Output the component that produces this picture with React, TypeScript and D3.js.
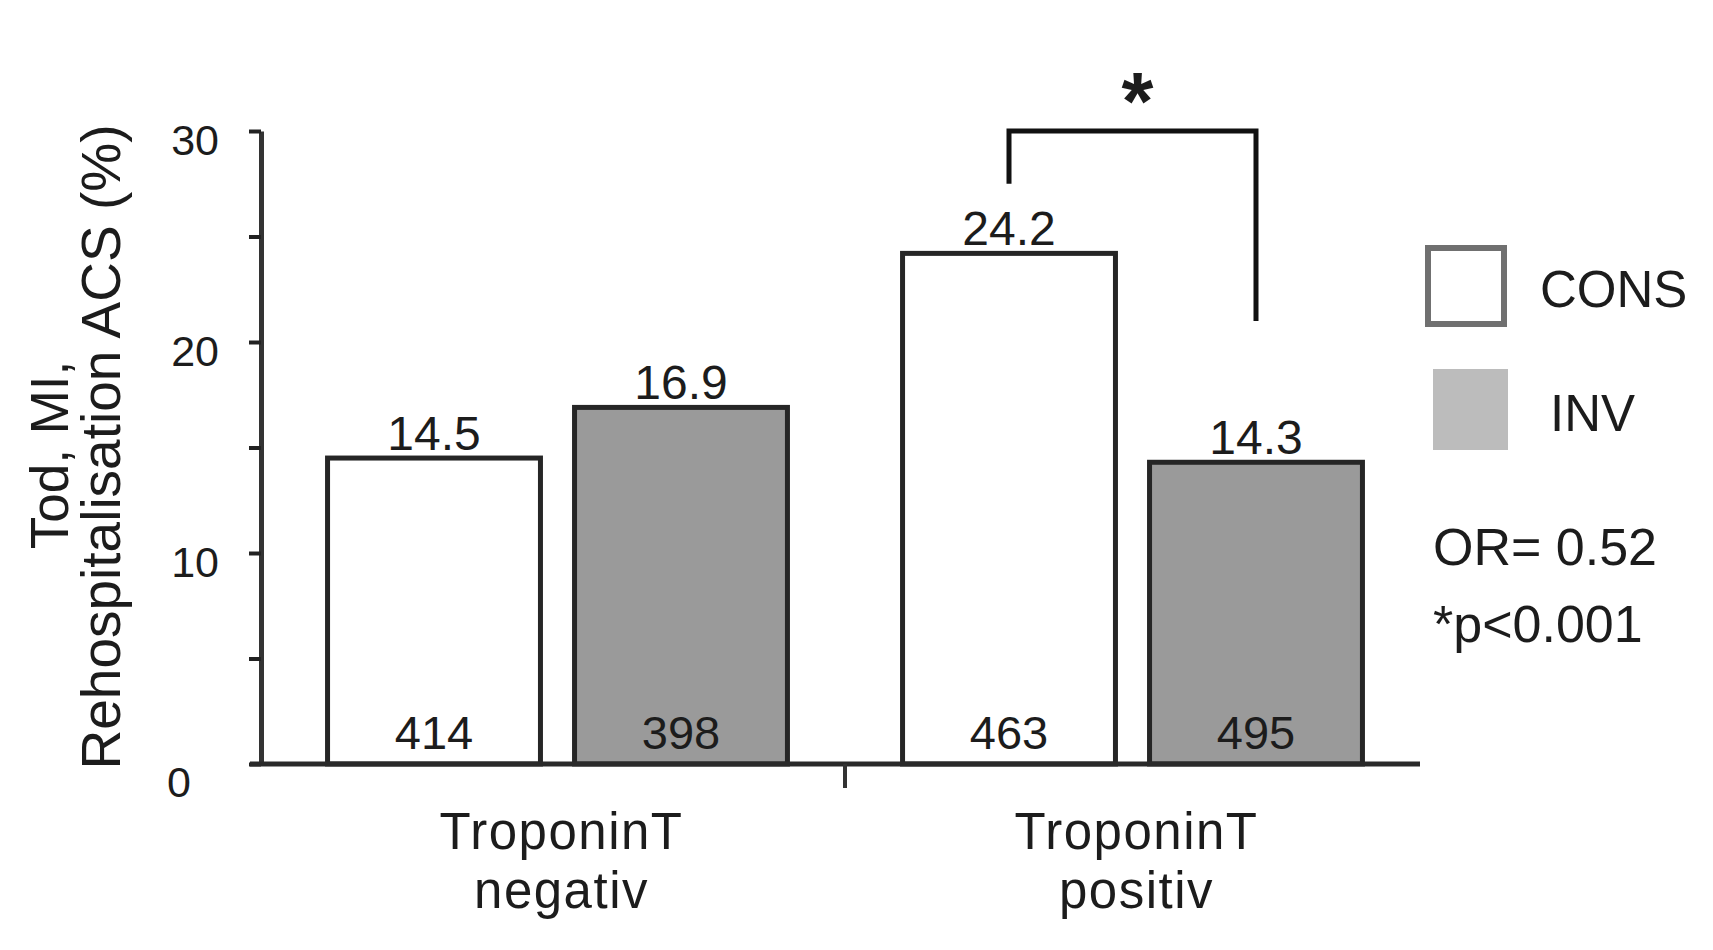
import React, { useEffect, useRef } from "react";
import * as d3 from "d3";

// categories
const groupNames = ["negativ", "positiv"];
const groupLines = [
  ["TroponinT", "negativ"],
  ["TroponinT", "positiv"]
];
const series = ["CONS", "INV"];

// event rates (%) and patient numbers
const consValues = [14.5, 24.2];
const invValues = [16.9, 14.3];
const consCounts = [414, 463];
const invCounts = [398, 495];

// y axis
const yTicks = [0, 5, 10, 15, 20, 25, 30];
const yLabelTicks = [0, 10, 20, 30];
const yTitle = ["Tod, MI,", "Rehospitalisation ACS (%)"];

// significance bracket over TroponinT positiv (values in %)
const bracketTop = 30;
const bracketEnds = [27.5, 21];
const statLines = ["OR= 0.52", "*p<0.001"];

const FONT = "'Liberation Sans', Arial, sans-serif";
const INK = "#1c1c1c";

export default function App() {
  const ref = useRef<SVGSVGElement | null>(null);

  useEffect(() => {
    const svg = d3.select(ref.current);
    svg.selectAll("*").remove();

    const y = d3.scaleLinear().domain([0, 30]).range([764, 131]);
    const x0 = d3.scaleBand().domain(groupNames).range([270, 1420]);
    const x1 = d3
      .scaleBand()
      .domain(series)
      .range([0, x0.bandwidth()])
      .paddingInner(0.138)
      .paddingOuter(0.233);

    const rows = groupNames.map((g, i) => ({
      group: g,
      bars: [
        { s: "CONS", v: consValues[i], n: consCounts[i] },
        { s: "INV", v: invValues[i], n: invCounts[i] }
      ]
    }));

    const fill = d3.scaleOrdinal<string, string>().domain(series).range(["#ffffff", "#9a9a9a"]);

    // bars
    const gBars = svg
      .append("g")
      .selectAll("g")
      .data(rows)
      .enter()
      .append("g")
      .attr("transform", d => "translate(" + x0(d.group) + ",0)");

    gBars
      .selectAll("rect")
      .data(d => d.bars)
      .enter()
      .append("rect")
      .attr("x", d => x1(d.s) as number)
      .attr("y", d => y(d.v))
      .attr("width", x1.bandwidth())
      .attr("height", d => y(0) - y(d.v))
      .attr("fill", d => fill(d.s))
      .attr("stroke", "#262626")
      .attr("stroke-width", 5);

    gBars
      .selectAll("text.val")
      .data(d => d.bars)
      .enter()
      .append("text")
      .attr("class", "val")
      .attr("x", d => (x1(d.s) as number) + x1.bandwidth() / 2)
      .attr("y", d => y(d.v) - 8)
      .attr("text-anchor", "middle")
      .attr("font-size", 48)
      .attr("font-family", FONT)
      .attr("fill", INK)
      .text(d => d.v.toFixed(1));

    gBars
      .selectAll("text.cnt")
      .data(d => d.bars)
      .enter()
      .append("text")
      .attr("class", "cnt")
      .attr("x", d => (x1(d.s) as number) + x1.bandwidth() / 2)
      .attr("y", y(0) - 15)
      .attr("text-anchor", "middle")
      .attr("font-size", 47)
      .attr("font-family", FONT)
      .attr("fill", INK)
      .text(d => d.n);

    // y axis
    const yAxis = svg
      .append("g")
      .attr("transform", "translate(261,0)")
      .call(
        d3
          .axisLeft(y)
          .tickValues(yTicks)
          .tickSize(12)
          .tickSizeOuter(0)
          .tickPadding(30)
          .tickFormat(d => (yLabelTicks.includes(+d) ? String(d) : ""))
      );
    yAxis.select(".domain").attr("stroke", "#333").attr("stroke-width", 5);
    yAxis.selectAll(".tick line").attr("stroke", "#222").attr("stroke-width", 4);
    yAxis
      .selectAll(".tick text")
      .attr("font-size", 43)
      .attr("font-family", FONT)
      .attr("fill", INK)
      .attr("dy", "0.55em");
    yAxis
      .selectAll<SVGGElement, number>(".tick")
      .filter(d => d === 0)
      .select("text")
      .attr("dx", -28)
      .attr("dy", "0.75em");

    // x axis
    svg
      .append("line")
      .attr("x1", 250)
      .attr("x2", x0.range()[1])
      .attr("y1", y(0))
      .attr("y2", y(0))
      .attr("stroke", "#2a2a2a")
      .attr("stroke-width", 5);
    const boundary = x0(groupNames[1]) as number;
    svg
      .append("line")
      .attr("x1", boundary)
      .attr("x2", boundary)
      .attr("y1", y(0))
      .attr("y2", y(0) + 24)
      .attr("stroke", "#333")
      .attr("stroke-width", 4);

    const cat = svg
      .append("g")
      .selectAll("text")
      .data(groupNames)
      .enter()
      .append("text")
      .attr("x", d => (x0(d) as number) + x0.bandwidth() / 2 + 4)
      .attr("y", 849)
      .attr("text-anchor", "middle")
      .attr("font-size", 51)
      .attr("letter-spacing", 1.5)
      .attr("font-family", FONT)
      .attr("fill", INK);
    cat
      .selectAll("tspan")
      .data((d, i) => groupLines[i])
      .enter()
      .append("tspan")
      .attr("x", function () {
        return (this.parentNode as SVGTextElement).getAttribute("x");
      })
      .attr("dy", (d, i) => (i === 0 ? 0 : 59))
      .text(d => d);

    // y title
    svg
      .append("g")
      .attr("transform", "rotate(-90)")
      .selectAll("text")
      .data(yTitle)
      .enter()
      .append("text")
      .attr("x", (d, i) => (i === 0 ? -455 : -447))
      .attr("y", (d, i) => (i === 0 ? 68 : 120))
      .attr("text-anchor", "middle")
      .attr("font-size", (d, i) => (i === 0 ? 53 : 55))
      .attr("font-family", FONT)
      .attr("fill", INK)
      .text(d => d);

    // significance bracket
    const xl = (x0(groupNames[1]) as number) + (x1("CONS") as number) + x1.bandwidth() / 2;
    const xr = (x0(groupNames[1]) as number) + (x1("INV") as number) + x1.bandwidth() / 2;
    svg
      .append("path")
      .attr(
        "d",
        d3.line()([
          [xl, y(bracketEnds[0])],
          [xl, y(bracketTop)],
          [xr, y(bracketTop)],
          [xr, y(bracketEnds[1])]
        ])
      )
      .attr("fill", "none")
      .attr("stroke", "#111")
      .attr("stroke-width", 5);
    svg
      .append("text")
      .attr("x", (xl + xr) / 2 + 5)
      .attr("y", y(bracketTop) - 2)
      .attr("text-anchor", "middle")
      .attr("font-size", 82)
      .attr("font-weight", "bold")
      .attr("font-family", FONT)
      .attr("fill", INK)
      .text("*");

    // legend
    const legend = svg.append("g");
    legend
      .append("rect")
      .attr("x", 1428)
      .attr("y", 248)
      .attr("width", 76)
      .attr("height", 76)
      .attr("fill", "#fff")
      .attr("stroke", "#707070")
      .attr("stroke-width", 6);
    legend
      .append("rect")
      .attr("x", 1433)
      .attr("y", 369)
      .attr("width", 75)
      .attr("height", 81)
      .attr("fill", "#bcbcbc");
    legend
      .selectAll("text.lg")
      .data(series)
      .enter()
      .append("text")
      .attr("class", "lg")
      .attr("x", (d, i) => (i === 0 ? 1540 : 1550))
      .attr("y", (d, i) => (i === 0 ? 307 : 431))
      .attr("font-size", 51)
      .attr("font-family", FONT)
      .attr("fill", INK)
      .text(d => d);
    legend
      .selectAll("text.st")
      .data(statLines)
      .enter()
      .append("text")
      .attr("class", "st")
      .attr("x", 1433)
      .attr("y", (d, i) => (i === 0 ? 565 : 642))
      .attr("font-size", 52)
      .attr("font-family", FONT)
      .attr("fill", INK)
      .text(d => d);
  }, []);

  return (
    <svg
      ref={ref}
      width={1713}
      height={950}
      style={{ position: "absolute", left: 0, top: 0, background: "#fff" }}
    />
  );
}
